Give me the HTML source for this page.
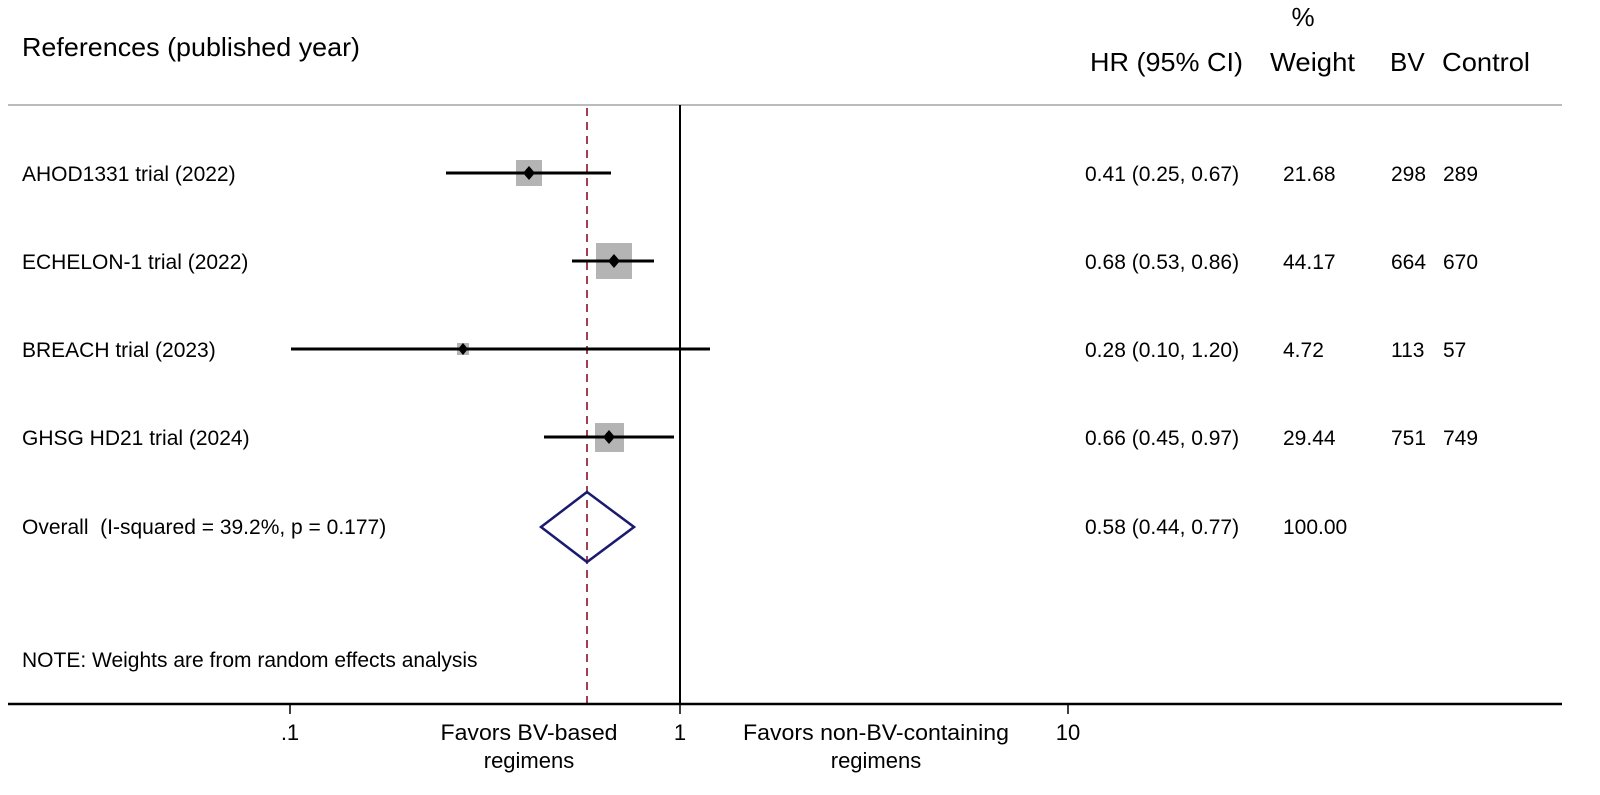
<!DOCTYPE html>
<html><head><style>body{margin:0;background:#fff}</style></head><body>
<svg width="1600" height="795" xmlns="http://www.w3.org/2000/svg" font-family="Liberation Sans, Arial, sans-serif" style="display:block">
<g font-size="26" fill="#000">
<text x="22" y="56" textLength="338" lengthAdjust="spacingAndGlyphs">References (published year)</text>
<text x="1303" y="26" text-anchor="middle">%</text>
<text x="1090" y="71" textLength="153" lengthAdjust="spacingAndGlyphs">HR (95% CI)</text>
<text x="1270" y="71" textLength="85" lengthAdjust="spacingAndGlyphs">Weight</text>
<text x="1390" y="71">BV</text>
<text x="1442" y="71" textLength="88" lengthAdjust="spacingAndGlyphs">Control</text>
</g>
<line x1="8" y1="105" x2="1562" y2="105" stroke="#bbb" stroke-width="2"/>
<line x1="680" y1="105" x2="680" y2="705" stroke="#000" stroke-width="2"/>
<line x1="587" y1="108" x2="587" y2="704" stroke="#a04050" stroke-width="2" stroke-dasharray="8,6"/>
<g font-size="21" fill="#000">
<text x="22" y="181">AHOD1331 trial (2022)</text>
<text x="22" y="269">ECHELON-1 trial (2022)</text>
<text x="22" y="357">BREACH trial (2023)</text>
<text x="22" y="445">GHSG HD21 trial (2024)</text>
<text x="22" y="534" xml:space="preserve">Overall  (I-squared = 39.2%, p = 0.177)</text>
<text x="22" y="667">NOTE: Weights are from random effects analysis</text>
<text x="1085" y="181">0.41 (0.25, 0.67)</text><text x="1283" y="181">21.68</text><text x="1391" y="181">298</text><text x="1443" y="181">289</text>
<text x="1085" y="269">0.68 (0.53, 0.86)</text><text x="1283" y="269">44.17</text><text x="1391" y="269">664</text><text x="1443" y="269">670</text>
<text x="1085" y="357">0.28 (0.10, 1.20)</text><text x="1283" y="357">4.72</text><text x="1391" y="357">113</text><text x="1443" y="357">57</text>
<text x="1085" y="445">0.66 (0.45, 0.97)</text><text x="1283" y="445">29.44</text><text x="1391" y="445">751</text><text x="1443" y="445">749</text>
<text x="1085" y="534">0.58 (0.44, 0.77)</text><text x="1283" y="534">100.00</text>
</g>
<g fill="#b4b4b4">
<rect x="516" y="160" width="26" height="26"/>
<rect x="596" y="243" width="36" height="36"/>
<rect x="457" y="343" width="12" height="12"/>
<rect x="595" y="423" width="29" height="29"/>
</g>
<g stroke="#000" stroke-width="3">
<line x1="446" y1="173" x2="611" y2="173"/>
<line x1="572" y1="261" x2="654" y2="261"/>
<line x1="291" y1="349" x2="710" y2="349"/>
<line x1="544" y1="437" x2="674" y2="437"/>
</g>
<g fill="#000">
<polygon points="529,166 535,173 529,180 523,173"/>
<polygon points="614,254 620,261 614,268 608,261"/>
<polygon points="463,343 468,349 463,355 458,349"/>
<polygon points="609,430 615,437 609,444 603,437"/>
</g>
<polygon points="587,492 634,527 587,562 541,527" fill="none" stroke="#1a1a6e" stroke-width="2.5"/>
<line x1="8" y1="704" x2="1562" y2="704" stroke="#000" stroke-width="2.5"/>
<g stroke="#000" stroke-width="1.5">
<line x1="290" y1="704" x2="290" y2="714"/>
<line x1="680" y1="704" x2="680" y2="714"/>
<line x1="1068" y1="704" x2="1068" y2="714"/>
</g>
<g font-size="22" fill="#000" text-anchor="middle">
<text x="290" y="740">.1</text>
<text x="680" y="740">1</text>
<text x="1068" y="740">10</text>
<text x="529" y="740" textLength="177" lengthAdjust="spacingAndGlyphs">Favors BV-based</text>
<text x="529" y="768">regimens</text>
<text x="876" y="740" textLength="266" lengthAdjust="spacingAndGlyphs">Favors non-BV-containing</text>
<text x="876" y="768">regimens</text>
</g>
</svg>
</body></html>
